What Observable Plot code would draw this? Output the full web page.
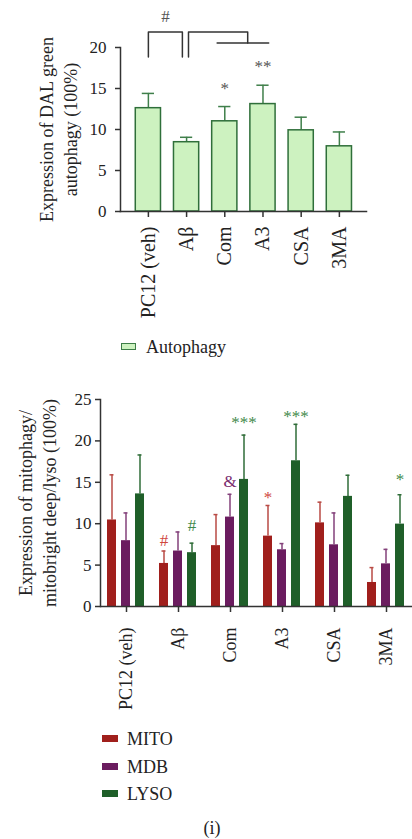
<!DOCTYPE html>
<html><head><meta charset="utf-8">
<script src="https://cdn.jsdelivr.net/npm/d3@7"></script>
<script src="https://cdn.jsdelivr.net/npm/@observablehq/plot@0.6"></script>
<style>
body{margin:0;background:#fff;font-family:"Liberation Serif",serif;color:#222;}
#wrap{position:relative;width:412px;height:839px;overflow:hidden;}
.box{position:absolute;left:0;}
.leg{position:absolute;font-size:18px;line-height:20px;white-space:nowrap;}
.sw{position:absolute;}
</style></head><body><div id="wrap">
<div id="top" class="box" style="top:0"></div>
<div class="sw" style="left:121px;top:343px;width:13px;height:5px;border:1.5px solid #3d7d47;background:#cdf2c0"></div>
<div class="leg" style="left:146px;top:337px">Autophagy</div>
<div id="bottom" class="box" style="top:372px"></div>
<div id="leg2"></div>
<div class="leg" style="left:0;width:424px;text-align:center;top:818px">(i)</div>
</div>
<script>
// ---------- data ----------
const groups = ["PC12 (veh)", "Aβ", "Com", "A3", "CSA", "3MA"];

// top panel: DAL green autophagy
const autophagyMean = [12.6, 8.45, 11.0, 13.1, 9.9, 7.95];
const autophagyErr  = [1.8, 0.6, 1.8, 2.3, 1.6, 1.75];

// bottom panel: MITO / MDB / LYSO
const series = ["MITO", "MDB", "LYSO"];
const mitoMean = [10.45, 5.2, 7.35, 8.5, 10.1, 2.9];
const mitoErr  = [5.45, 1.5, 3.75, 3.7, 2.5, 1.8];
const mdbMean  = [7.95, 6.7, 10.8, 6.85, 7.45, 5.15];
const mdbErr   = [3.35, 2.3, 2.75, 0.75, 3.85, 1.75];
const lysoMean = [13.6, 6.5, 15.35, 17.6, 13.3, 9.95];
const lysoErr  = [4.7, 1.15, 5.35, 4.4, 2.55, 3.55];

const topTicks = [0, 5, 10, 15, 20];
const bottomTicks = [0, 5, 10, 15, 20, 25];

const yLabelTop = "Expression of DAL green\nautophagy (100%)";
const yLabelBottom = "Expression of mitophagy/\nmitobright deep/lyso (100%)";

// significance annotations (top panel, x in group-index units)
const topNotes = [
  {x: 0.45, y: 23.8, label: "#"},
  {x: 2, y: 15.0, label: "*"},
  {x: 3, y: 17.7, label: "**"}
];
const bracketA = [{x: 0, y: 18.85}, {x: 0, y: 21.9}, {x: 0.89, y: 21.9}, {x: 0.89, y: 18.85}];
const bracketB = [{x: 1.05, y: 18.85}, {x: 1.05, y: 21.9}, {x: 2.6, y: 21.9}, {x: 2.6, y: 20.55}];
const bracketC = [{x: 1.8, y: 20.55}, {x: 3.15, y: 20.55}];

// significance annotations (bottom panel)
const bottomNotes = [
  {group: "Aβ", series: "MITO", y: 8.0, label: "#"},
  {group: "Aβ", series: "LYSO", y: 9.8, label: "#"},
  {group: "Com", series: "MDB", y: 15.1, label: "&"},
  {group: "Com", series: "LYSO", y: 22.2, label: "***"},
  {group: "A3", series: "MITO", y: 13.2, label: "*"},
  {group: "A3", series: "LYSO", y: 23.0, label: "***"},
  {group: "3MA", series: "LYSO", y: 15.3, label: "*"}
];

// ---------- styles ----------
const barFill = ["#a01f1c", "#6b1c5f", "#1f5f29"];
const errStroke = {MITO: "#b94a44", MDB: "#83407a", LYSO: "#2f6d38"};
const noteFill = {MITO: "#d0473e", MDB: "#7b2d70", LYSO: "#3f8a4c"};
const font = "'Liberation Serif', serif";
const axisColor = "#333";

// ---------- top panel ----------
const topData = groups.map((g, i) => ({index: i, group: g, mean: autophagyMean[i], err: autophagyErr[i]}));
const barHalf = 0.33, capHalf = 0.16;

const topPlot = Plot.plot({
  width: 412, height: 330,
  marginLeft: 120, marginRight: 46, marginTop: 47, marginBottom: 119,
  style: {fontFamily: font, fontSize: "17px", color: "#222", background: "transparent", overflow: "visible"},
  x: {domain: [-0.73, 5.71]},
  y: {domain: [0, 20]},
  marks: [
    Plot.axisY({ticks: topTicks, tickSize: 5, tickPadding: 9, label: null, fontSize: 17, stroke: axisColor, strokeWidth: 1.5}),
    Plot.axisX({ticks: groups.map((_, i) => i), tickFormat: i => groups[i], tickRotate: -90,
      tickSize: 6, tickPadding: 9, label: null, fontSize: 20, stroke: axisColor, strokeWidth: 1.5}),
    Plot.ruleX(topData, {x: "index", y1: "mean", y2: d => d.mean + d.err, stroke: "#3f7f4a", strokeWidth: 1.5}),
    Plot.ruleY(topData, {y: d => d.mean + d.err, x1: d => d.index - capHalf, x2: d => d.index + capHalf, stroke: "#3f7f4a", strokeWidth: 1.5}),
    Plot.rect(topData, {x1: d => d.index - barHalf, x2: d => d.index + barHalf, y1: d => 0, y2: "mean",
      fill: "#cdf2c0", stroke: "#2f6f3a", strokeWidth: 1.5}),
    Plot.frame({anchor: "left", stroke: axisColor, strokeWidth: 1.5}),
    Plot.frame({anchor: "bottom", stroke: axisColor, strokeWidth: 1.5}),
    Plot.line(bracketA, {x: "x", y: "y", stroke: "#333", strokeWidth: 1.5}),
    Plot.line(bracketB, {x: "x", y: "y", stroke: "#333", strokeWidth: 1.5}),
    Plot.line(bracketC, {x: "x", y: "y", stroke: "#333", strokeWidth: 1.5}),
    Plot.text(topNotes, {x: "x", y: "y", text: "label", fill: "#555", fontSize: 17}),
    Plot.text([yLabelTop], {frameAnchor: "left", textAnchor: "middle", rotate: -90, dx: -63, lineHeight: 1.3, fontSize: 18, fill: "#222"})
  ]
});
document.getElementById("top").appendChild(topPlot);

// ---------- bottom panel ----------
const means = [mitoMean, mdbMean, lysoMean];
const errs = [mitoErr, mdbErr, lysoErr];
const bottomData = groups.flatMap((g, i) => series.map((s, j) => ({group: g, series: s, mean: means[j][i], err: errs[j][i]})));

const bottomPlot = Plot.plot({
  width: 412, height: 350,
  marginLeft: 98, marginRight: 0, marginTop: 27, marginBottom: 116,
  style: {fontFamily: font, fontSize: "17px", color: "#222", background: "transparent", overflow: "visible"},
  fx: {domain: groups, range: [98, 414], padding: 0},
  x: {domain: series, paddingInner: 0.345, paddingOuter: 0.49},
  y: {domain: [0, 25]},
  color: {domain: series, range: barFill},
  marks: [
    Plot.axisFx({anchor: "bottom", tickRotate: -90, tickSize: 6, tickPadding: 15, label: null, fontSize: 18, stroke: axisColor, strokeWidth: 1.5}),
    Plot.axisY({ticks: bottomTicks, tickSize: 5, tickPadding: 4, label: null, fontSize: 17, stroke: axisColor, strokeWidth: 1.5}),
    Plot.axisX({ticks: [], label: null}),
    Plot.ruleX(bottomData, {fx: "group", x: "series", y1: "mean", y2: d => d.mean + d.err, stroke: d => errStroke[d.series], strokeWidth: 1.5}),
    Plot.tickY(bottomData, {fx: "group", x: "series", y: d => d.mean + d.err, stroke: d => errStroke[d.series], strokeWidth: 1.5, insetLeft: 2.5, insetRight: 2.5}),
    Plot.barY(bottomData, {fx: "group", x: "series", y: "mean", fill: "series"}),
    Plot.frame({anchor: "left", facetAnchor: "left", stroke: axisColor, strokeWidth: 1.5}),
    Plot.ruleY([0], {stroke: axisColor, strokeWidth: 1.5}),
    Plot.text(bottomNotes, {fx: "group", x: "series", y: "y", text: "label", fill: d => noteFill[d.series], fontSize: 17}),
    Plot.text([yLabelBottom], {fx: () => groups[0], frameAnchor: "left", textAnchor: "middle", rotate: -90, dx: -64, lineHeight: 1.3, fontSize: 18, fill: "#222"})
  ]
});
document.getElementById("bottom").appendChild(bottomPlot);

// ---------- bottom legend ----------
const legTops = [735, 763, 790];
const leg2 = document.getElementById("leg2");
series.forEach((s, j) => {
  const sw = document.createElement("div");
  sw.className = "sw";
  sw.style.cssText = `left:102px;top:${legTops[j]}px;width:16px;height:7px;background:${barFill[j]}`;
  const t = document.createElement("div");
  t.className = "leg";
  t.style.cssText = `left:127px;top:${legTops[j] - 6}px`;
  t.textContent = s;
  leg2.appendChild(sw); leg2.appendChild(t);
});
</script></body></html>
